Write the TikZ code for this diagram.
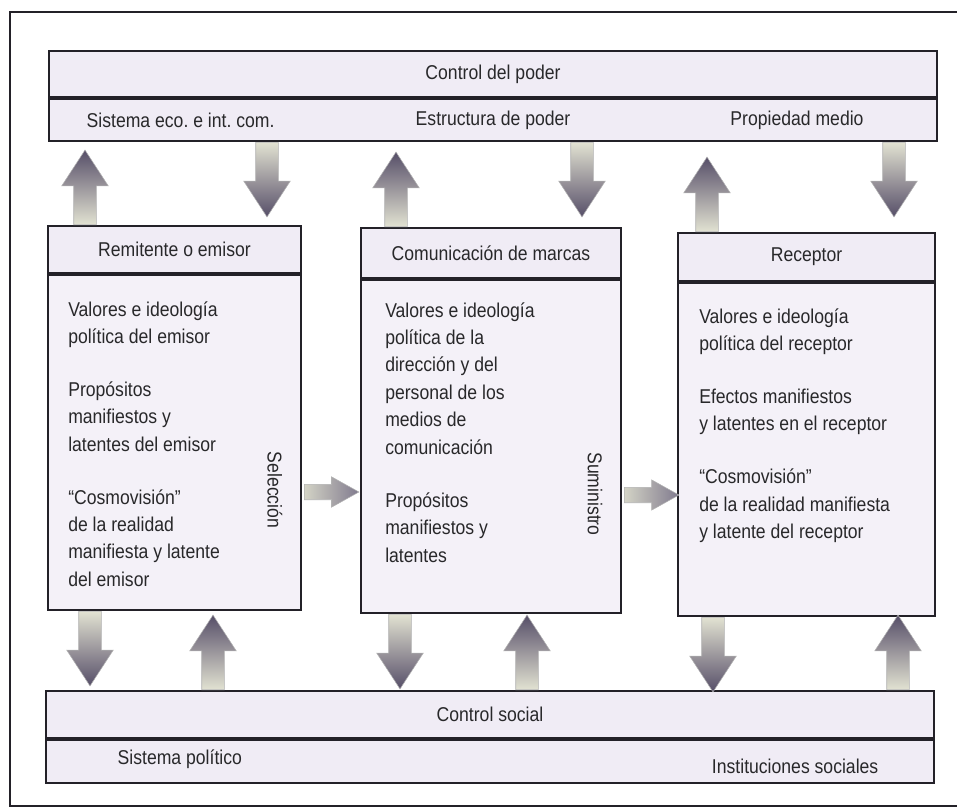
\documentclass[tikz,border=0pt]{standalone}
\usepackage{fontspec}
\setmainfont{Liberation Sans}[FakeStretch=0.88]
\usetikzlibrary{shapes.arrows,calc,positioning}

\definecolor{fondo}{RGB}{240,236,245}
\definecolor{borde}{RGB}{35,33,40}
\definecolor{texto}{RGB}{40,40,42}
\definecolor{flechaosc}{RGB}{86,78,104}
\definecolor{flechaclara}{RGB}{226,226,210}

\begin{document}
\begin{tikzpicture}[x=0.75pt, y=-0.75pt,
    every node/.style={text=texto, font=\fontsize{15pt}{20.6pt}\selectfont\frenchspacing},
    banda/.style={draw=borde, line width=1.5pt, fill=fondo, inner sep=0pt, minimum width=666pt, anchor=north west},
    cabecera/.style={draw=borde, line width=1.5pt, fill=fondo, inner sep=0pt, anchor=north west},
    cuerpo/.style={draw=borde, line width=1.5pt, fill=fondo!75!white, inner sep=0pt, anchor=north west},
    parrafo/.style={align=left, inner sep=0pt, anchor=north west},
    arriba/.style={single arrow, shape border rotate=90, anchor=tail, inner sep=8.25pt,
        minimum width=34.5pt, minimum height=56pt, single arrow head extend=9pt, single arrow tip angle=66,
        draw=gray!60, line width=0.4pt, top color=flechaosc, bottom color=flechaclara},
    abajo/.style={arriba, shape border rotate=270, top color=flechaclara, bottom color=flechaosc},
    derecha/.style={single arrow, anchor=tail, inner sep=5.6pt,
        minimum width=22.5pt, minimum height=41pt, single arrow head extend=5.6pt, single arrow tip angle=58,
        draw=gray!60, line width=0.4pt, left color=flechaclara!85!gray, right color=flechaosc!75}
]
    \useasboundingbox (0,0) rectangle (957,811);

    % Marco
    \draw[borde, line width=2pt] (957,12) -| (10,806) -- (957,806);

    % Control del poder
    \node[banda, minimum height=34.5pt] (poder) at (48,50) {Control del poder};
    \node[banda, minimum height=31.5pt] (poderitems) at (poder.south west) {};
    \node[anchor=west] (sisteco) at ($(poderitems.west)+(34,0)$) {Sistema eco. e int. com.};
    \node (estructura) at (poderitems.center) {Estructura de poder};
    \node (propiedad) at (poderitems.center -| 797,0) {Propiedad medio};

    % Remitente o emisor
    \node[cabecera, minimum width=189.75pt, minimum height=35.25pt] (emisor) at (47,225) {Remitente o emisor};
    \node[cuerpo, minimum width=189.75pt, minimum height=251.25pt] (emisorc) at (emisor.south west) {};
    \node[parrafo] (emisort) at ($(emisorc.north west)+(21,27)$) {Valores e ideología\\ política del emisor\\[19pt]
        Propósitos\\ manifiestos y\\ latentes del emisor\\[19pt]
        \textquotedblleft Cosmovisión\textquotedblright\\ de la realidad\\ manifiesta y latente\\ del emisor};
    \node[rotate=-90] (seleccion) at (275,490) {Selección};

    % Comunicacion de marcas
    \node[cabecera, minimum width=195pt, minimum height=37.5pt] (marcas) at (360,227) {Comunicación de marcas};
    \node[cuerpo, minimum width=195pt, minimum height=249.75pt] (marcasc) at (marcas.south west) {};
    \node[parrafo] (marcast) at ($(marcasc.north west)+(25,23)$) {Valores e ideología\\ política de la\\ dirección y del\\
        personal de los\\ medios de\\ comunicación\\[19pt]
        Propósitos\\ manifiestos y\\ latentes};
    \node[rotate=-90] (suministro) at (595,494) {Suministro};

    % Receptor
    \node[cabecera, minimum width=192.75pt, minimum height=36pt] (receptor) at (677,232) {Receptor};
    \node[cuerpo, minimum width=192.75pt, minimum height=249.75pt] (receptorc) at (receptor.south west) {};
    \node[parrafo] (receptort) at ($(receptorc.north west)+(22,26)$) {Valores e ideología\\ política del receptor\\[19pt]
        Efectos manifiestos\\ y latentes en el receptor\\[19pt]
        \textquotedblleft Cosmovisión\textquotedblright\\ de la realidad manifiesta\\ y latente del receptor};

    % Control social
    \node[banda, minimum height=35.25pt] (social) at (45,690) {Control social};
    \node[banda, minimum height=32.25pt] (socialitems) at (social.south west) {};
    \node[anchor=west] (politico) at ($(socialitems.west)+(68,-2)$) {Sistema político};
    \node[anchor=east] (instituciones) at ($(socialitems.east)+(-52,5)$) {Instituciones sociales};

    % Flechas superiores
    \node[arriba] (fs1) at (emisor.north -| 85,0) {};
    \node[abajo] (fs2) at (poderitems.south -| 267,0) {};
    \node[arriba] (fs3) at (marcas.north -| 396,0) {};
    \node[abajo] (fs4) at (poderitems.south -| 582,0) {};
    \node[arriba] (fs5) at (receptor.north -| 707,0) {};
    \node[abajo] (fs6) at (poderitems.south -| 894,0) {};

    % Flechas inferiores
    \node[abajo] (fi1) at (emisorc.south -| 90,0) {};
    \node[arriba] (fi2) at (social.north -| 213,0) {};
    \node[abajo] (fi3) at (marcasc.south -| 400,0) {};
    \node[arriba] (fi4) at (social.north -| 527,0) {};
    \node[abajo] (fi5) at (receptorc.south -| 713,0) {};
    \node[arriba] (fi6) at (social.north -| 898,0) {};

    % Seleccion y suministro
    \node[derecha] (fh1) at ($(emisorc.east |- 0,492)+(2,0)$) {};
    \node[derecha] (fh2) at ($(marcasc.east |- 0,495)+(2,0)$) {};
\end{tikzpicture}
\end{document}
